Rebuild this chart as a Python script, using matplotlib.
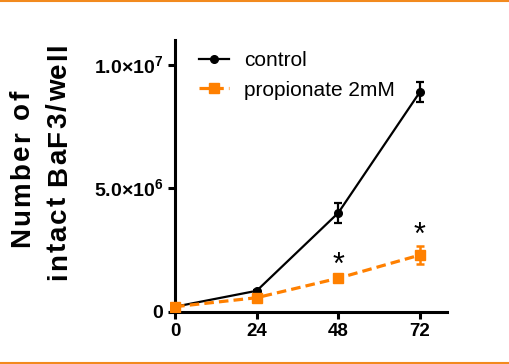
import matplotlib
matplotlib.use("Agg")
import matplotlib.pyplot as plt
from matplotlib.lines import Line2D
from matplotlib.transforms import IdentityTransform
from matplotlib.font_manager import FontProperties, findfont, get_font
import numpy as np

plt.rcParams['font.family'] = 'Liberation Sans'
plt.rcParams['mathtext.fontset'] = 'custom'
plt.rcParams['mathtext.bf'] = 'Liberation Sans:bold'
plt.rcParams['mathtext.rm'] = 'Liberation Sans'

# hours in culture
hours = [0, 24, 48, 72]

# cell counts (mean +/- SEM)
control = [1.95e5, 8.4e5, 4.0e6, 8.9e6]
control_err = [4e4, 5e4, 3.9e5, 4.0e5]
propionate = [1.95e5, 5.6e5, 1.35e6, 2.29e6]
propionate_err = [4e4, 4e4, 8e4, 3.5e5]

# significance marks
star_hours = [48, 72]

xticks = [0, 24, 48, 72]
yticks = [0, 5e6, 1e7]
ytick_labels = ['0', r'5.0×10$^{\mathbf{6}}$', r'1.0×10$^{\mathbf{7}}$']

orange = '#ff8000'
W, H = 510, 364

fig = plt.figure(figsize=(W / 100, H / 100), dpi=100)
ax = fig.add_axes([170 / W, 1 - 311.5 / H, 277 / W, 271.1 / H])

ctrl_style = dict(color='black', lw=1.6, marker='o', ms=5.5)
prop_style = dict(color=orange, lw=2.3, dashes=(3.0, 1.6), marker='s', ms=7)

ax.errorbar(hours, control, yerr=control_err, capsize=3.2, elinewidth=1.6,
            capthick=1.6, zorder=3, **ctrl_style)
ax.errorbar(hours, propionate, yerr=propionate_err, capsize=3.2,
            elinewidth=1.8, capthick=1.8, zorder=4, **prop_style)

prop_top = dict(zip(hours, np.array(propionate) + np.array(propionate_err)))
for h in star_hours:
    ax.annotate('*', (h, prop_top[h]), xytext=(0, -3), textcoords='offset points',
                ha='center', va='bottom', fontsize=22)

ax.set_xlim(-1.5, 80)
ax.set_ylim(0, 1.1e7)
ax.spines['left'].set_position(('data', 0))
for s in ['top', 'right']:
    ax.spines[s].set_visible(False)
for s in ['left', 'bottom']:
    ax.spines[s].set_linewidth(2.2)

ax.set_xticks(xticks)
ax.set_xticklabels([str(t) for t in xticks])
ax.set_yticks(yticks)
ax.set_yticklabels(ytick_labels)
ax.tick_params(axis='both', length=5, width=2.2)
ax.tick_params(axis='x', pad=3.5, labelsize=13.5)
ax.tick_params(axis='y', pad=3.5, labelsize=14)
for lab in ax.get_xticklabels() + ax.get_yticklabels():
    lab.set_fontweight('bold')

handles = [Line2D([], [], **ctrl_style), Line2D([], [], **prop_style)]
ax.legend(handles, ['control', 'propionate 2mM'], loc='upper left',
          bbox_to_anchor=(0.105, 0.96), frameon=False, fontsize=15,
          handlelength=1.45, handletextpad=0.7, labelspacing=0.5,
          borderpad=0, borderaxespad=0)


def spaced_label(x_base, y_start, s, size, gap):
    # vertical text drawn char by char so the letters can be spread out
    prop = FontProperties(family='Liberation Sans', weight='bold', size=size)
    font = get_font(findfont(prop))
    font.set_size(size, fig.dpi)
    y = H - y_start
    for ch in s:
        fig.text(x_base, y, ch, fontproperties=prop, rotation=90,
                 rotation_mode='anchor', ha='left', va='baseline',
                 transform=IdentityTransform())
        g = font.load_char(ord(ch))
        y += g.linearHoriAdvance / 65536 + gap


spaced_label(29, 247, 'Number of', 20, 2.2)
spaced_label(66, 280, 'intact BaF3/well', 20, 1.8)

# orange rules along the top and bottom edges
fig.add_artist(Line2D([0, 1], [1 - 1 / H, 1 - 1 / H], color='#f28a1e', lw=1.5,
                      transform=fig.transFigure))
fig.add_artist(Line2D([0, 1], [1.2 / H, 1.2 / H], color='#f28a1e', lw=1.5,
                      transform=fig.transFigure))

fig.savefig('out.png', dpi=100)
